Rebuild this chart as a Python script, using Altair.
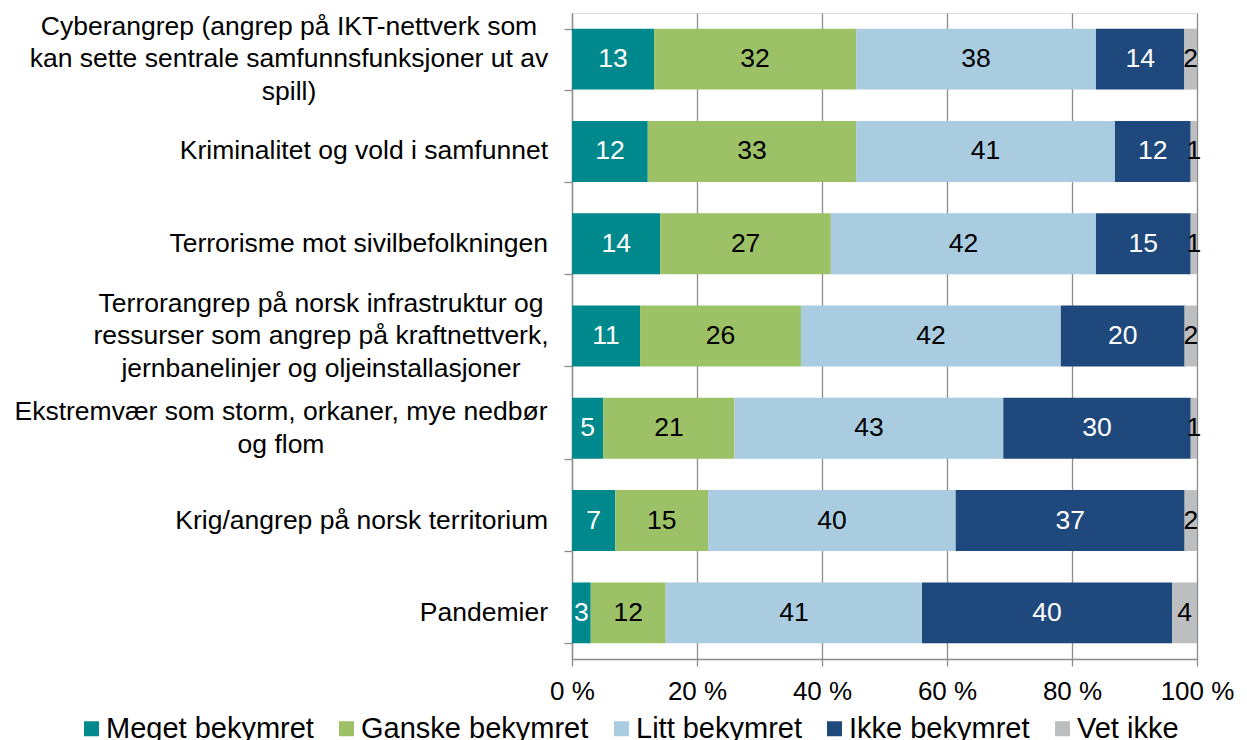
import altair as alt
import pandas as pd

categories = [
    "Cyberangrep (angrep på IKT-nettverk som|kan sette sentrale samfunnsfunksjoner ut av|spill)",
    "Kriminalitet og vold i samfunnet",
    "Terrorisme mot sivilbefolkningen",
    "Terrorangrep på norsk infrastruktur og|ressurser som angrep på kraftnettverk,|jernbanelinjer og oljeinstallasjoner",
    "Ekstremvær som storm, orkaner, mye nedbør|og flom",
    "Krig/angrep på norsk territorium",
    "Pandemier",
]
series = ["Meget bekymret", "Ganske bekymret", "Litt bekymret", "Ikke bekymret", "Vet ikke"]
meget = [13, 12, 14, 11, 5, 7, 3]
ganske = [32, 33, 27, 26, 21, 15, 12]
litt = [38, 41, 42, 42, 43, 40, 41]
ikke = [14, 12, 15, 20, 30, 37, 40]
vet = [2, 1, 1, 2, 1, 2, 4]
tick_values = [0, 0.2, 0.4, 0.6, 0.8, 1.0]

colors = ["#00898C", "#9DC166", "#A9CCE0", "#1F497D", "#BDBEC0"]

values_by_series = [meget, ganske, litt, ikke, vet]
rows = []
for si, (s, vals) in enumerate(zip(series, values_by_series)):
    for c, v in zip(categories, vals):
        rows.append({"cat": c, "series": s, "value": v, "rank": si})
df = pd.DataFrame(rows)
cat_df = pd.DataFrame({"cat": categories})

FONT = "Liberation Sans"
GRAY = "#8C8C8C"
LINE_H = 32.5

y_enc = alt.Y(
    "cat:N",
    sort=categories,
    title=None,
    scale=alt.Scale(paddingInner=0.34, paddingOuter=0.17),
    axis=alt.Axis(
        labels=False,
        tickBand="extent",
        tickSize=8,
        tickColor=GRAY,
        tickWidth=1.3,
        domainColor=GRAY,
        domainWidth=1.3,
        grid=False,
    ),
)

base = alt.Chart(df).transform_stack(
    stack="value",
    groupby=["cat"],
    as_=["x0", "x1"],
    offset="normalize",
    sort=[alt.SortField("rank", "ascending")],
).transform_calculate(mid="(datum.x0 + datum.x1) / 2")

bars = base.mark_bar().encode(
    x=alt.X(
        "x0:Q",
        title=None,
        scale=alt.Scale(domain=[0, 1], nice=False, zero=True),
        axis=alt.Axis(
            values=tick_values,
            labelExpr="round(datum.value * 100) + ' %'",
            labelFont=FONT,
            labelFontSize=26,
            labelColor="#000000",
            labelPadding=12,
            labelFlush=False,
            tickSize=7,
            tickColor=GRAY,
            tickWidth=1.3,
            domainColor=GRAY,
            domainWidth=1.3,
            grid=True,
            gridColor=GRAY,
            gridWidth=1.3,
        ),
    ),
    x2="x1:Q",
    y=y_enc,
    color=alt.Color(
        "series:N",
        scale=alt.Scale(domain=series, range=colors),
        legend=alt.Legend(
            title=None,
            orient="none",
            legendX=-495,
            legendY=701,
            direction="horizontal",
            columns=5,
            symbolType="square",
            symbolSize=225,
            symbolStrokeWidth=0,
            symbolOpacity=1,
            labelFont=FONT,
            labelFontSize=29,
            labelColor="#000000",
            labelOffset=0,
            columnPadding=18,
            labelLimit=0,
            padding=0,
        ),
    ),
)

values_text = base.mark_text(font=FONT, fontSize=26.5, align="center", baseline="middle").encode(
    x=alt.X("mid:Q"),
    y=y_enc,
    text=alt.Text("value:Q"),
    color=alt.condition(
        "datum.series === 'Meget bekymret' || datum.series === 'Ikke bekymret'",
        alt.value("#FFFFFF"),
        alt.value("#000000"),
    ),
)

cat_labels = alt.Chart(cat_df).mark_text(
    font=FONT,
    fontSize=26.5,
    lineHeight=LINE_H,
    lineBreak="|",
    baseline="middle",
    color="#000000",
    align={"expr": "indexof(datum.cat, '|') >= 0 ? 'center' : 'right'"},
    dx={"expr": "indexof(datum.cat, 'Cyberangrep') === 0 ? -283 : indexof(datum.cat, 'Terrorangrep') === 0 ? -251 : indexof(datum.cat, 'Ekstremv') === 0 ? -291 : -24"},
    dy={"expr": "-(length(split(datum.cat, '|')) - 1) * %s / 2" % LINE_H},
).encode(
    y=y_enc,
    x=alt.value(0),
    text=alt.Text("cat:N"),
)

chart = (
    alt.layer(bars, values_text, cat_labels)
    .properties(
        width=625,
        height=646,
        autosize=alt.AutoSizeParams(type="none"),
        padding={"left": 564, "top": 5, "right": 40, "bottom": 90},
    )
    .configure_view(strokeWidth=0)
    .configure(font=FONT, background="#FFFFFF")
)

chart.save("out.html", embed_options={"renderer": "svg", "actions": False})
